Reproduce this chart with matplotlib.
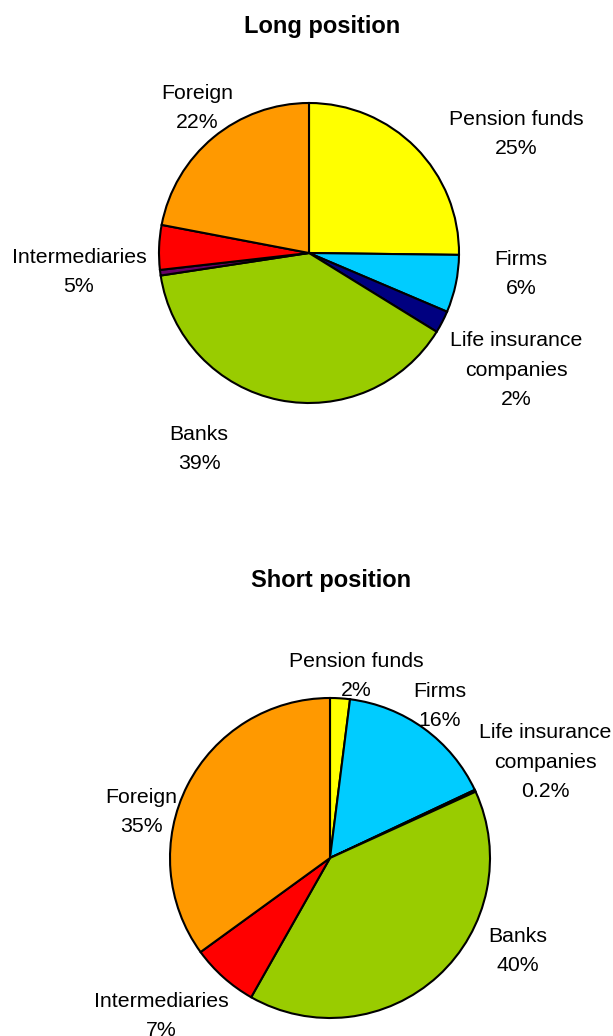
import matplotlib
matplotlib.use("Agg")
import matplotlib.pyplot as plt

plt.rcParams['font.family'] = ['Liberation Sans', 'DejaVu Sans']

# Data
long_cats = ["Pension funds", "Firms", "Life insurance companies", "Banks", "Other", "Intermediaries", "Foreign"]
long_vals = [25.2, 6.2, 2.4, 38.8, 0.6, 4.8, 22.0]
long_colors = ["#FFFF00", "#00CCFF", "#000080", "#99CC00", "#660066", "#FF0000", "#FF9900"]

short_cats = ["Pension funds", "Firms", "Life insurance companies", "Banks", "Intermediaries", "Foreign"]
short_vals = [2.0, 16.0, 0.2, 40.0, 6.8, 35.0]
short_colors = ["#FFFF00", "#00CCFF", "#000080", "#99CC00", "#FF0000", "#FF9900"]

W, H = 613, 1036
fig = plt.figure(figsize=(W / 100, H / 100), dpi=100)
ax = fig.add_axes([0, 0, 1, 1])

wp = dict(edgecolor='black', linewidth=1.5)
ax.pie(long_vals, colors=long_colors, startangle=90, counterclock=False,
       center=(309, H - 253), radius=150, wedgeprops=wp, frame=True)
ax.pie(short_vals, colors=short_colors, startangle=90, counterclock=False,
       center=(330, H - 858), radius=160, wedgeprops=wp, frame=True)
ax.set_xlim(0, W)
ax.set_ylim(0, H)
ax.set_aspect('equal')
ax.axis('off')

fs = 15.3
dy = 2
def lab(x, y, s, **kw):
    ax.text(x, H - y - dy, s, ha='center', va='center', fontsize=fs, linespacing=1.72, **kw)

ax.text(322, H - 27, "Long position", ha='center', va='center', fontsize=17, fontweight='bold')
lab(197, 106, "Foreign\n22%")
lab(516, 132, "Pension funds\n25%")
lab(521, 272, "Firms\n6%")
lab(516, 368, "Life insurance\ncompanies\n2%")
lab(79, 270, "Intermediaries\n5%")
lab(199, 447, "Banks\n39%")

ax.text(331, H - 581, "Short position", ha='center', va='center', fontsize=17, fontweight='bold')
lab(356, 674, "Pension funds\n2%")
lab(440, 704, "Firms\n16%")
lab(545, 760, "Life insurance\ncompanies\n0.2%")
lab(141, 810, "Foreign\n35%")
lab(518, 949, "Banks\n40%")
lab(161, 1014, "Intermediaries\n7%")

fig.savefig("out.png", dpi=100)
